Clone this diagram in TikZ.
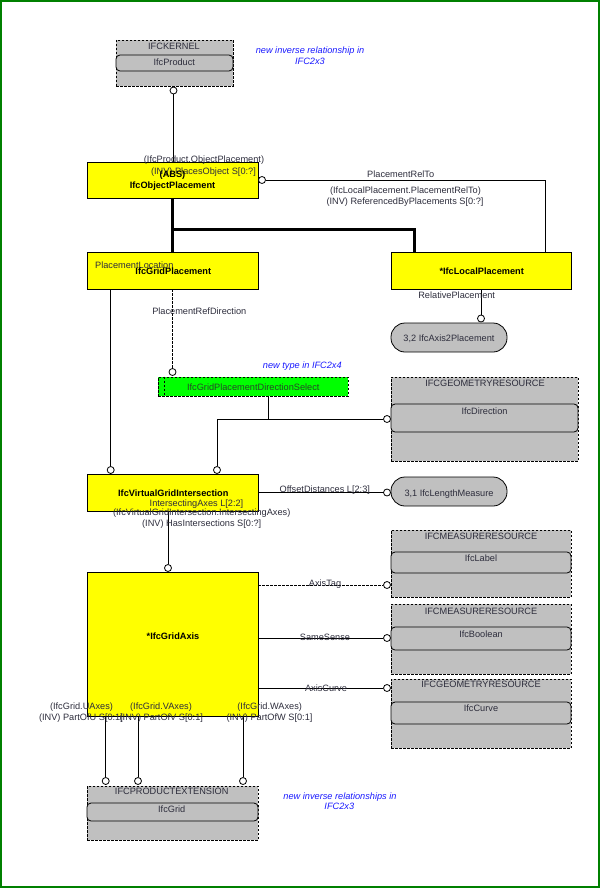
\documentclass[tikz,border=0pt]{standalone}
\usepackage{fontspec}
\setmainfont{Liberation Sans}
\usetikzlibrary{calc}
\definecolor{ifcyellow}{RGB}{255,255,0}
\definecolor{ifcgray}{RGB}{192,192,192}
\definecolor{ifcgreen}{RGB}{0,255,0}
\definecolor{framec}{RGB}{0,128,0}
\definecolor{labc}{RGB}{45,45,60}
\definecolor{notec}{RGB}{25,25,255}
\definecolor{selc}{RGB}{40,70,40}
\begin{document}
\begin{tikzpicture}[x=1pt,y=-1pt,
  txt/.style={inner sep=0pt, text height=6.6pt, text depth=0pt, font=\fontsize{9.2}{10}\selectfont, text=labc},
  bold/.style={txt, font=\fontsize{9.2}{10}\selectfont\bfseries, text=black},
  note/.style={txt, font=\fontsize{9.2}{10}\selectfont\itshape, text=notec},
  ybox/.style={draw, fill=ifcyellow, line width=0.8pt, inner sep=0pt},
  gbox/.style={draw, dashed, dash pattern=on 2.5pt off 1.5pt, fill=ifcgray, line width=0.8pt, inner sep=0pt},
  ibox/.style={draw, solid, rounded corners=4pt, fill=ifcgray, line width=0.8pt, inner sep=0pt},
  pill/.style={draw, fill=ifcgray, rounded corners=14pt, line width=0.8pt, inner sep=0pt, minimum width=116pt, minimum height=29pt},
  selbox/.style={draw, dashed, dash pattern=on 2.5pt off 1.5pt, fill=ifcgreen, line width=0.8pt, inner sep=0pt},
  oc/.style={circle, draw, fill=white, minimum size=7pt, inner sep=0pt, line width=0.8pt},
  conn/.style={line width=0.8pt},
  dconn/.style={line width=0.8pt, dash pattern=on 2.5pt off 1.5pt},
  thickconn/.style={line width=3pt}
]
\useasboundingbox (0,0) rectangle (600,888);
\draw[framec, line width=1.6pt] (0.8,0.8) rectangle (599.2,887.2);

% ---------- boxes ----------
\node[gbox, minimum width=117pt, minimum height=46pt] (kernel) at (174.5,63) {};
\node[ibox, minimum width=117pt, minimum height=16pt] (kernelin) at (174.5,63) {};
\node[txt] (kernelh) at (174,46) {IFCKERNEL};
\node[txt] (kernelt) at (174.3,62) {IfcProduct};

\node[ybox, minimum width=171pt, minimum height=36pt] (op) at (172.5,180) {};
\node[ybox, minimum width=171pt, minimum height=37pt] (gp) at (172.5,270.5) {};
\node[ybox, minimum width=180pt, minimum height=37pt] (lp) at (481,270.5) {};
\node[pill] (a2p) at (449,337.5) {};
\node[selbox, minimum width=190pt, minimum height=19pt] (gs) at (253,386.5) {};
\draw[dconn] (gs.north west -| 164,0) -- (gs.south west -| 164,0);

\node[gbox, minimum width=187pt, minimum height=84pt] (dirb) at (484.5,419) {};
\node[ibox, minimum width=187pt, minimum height=28pt] (dirin) at (484.5,418) {};

\node[ybox, minimum width=171pt, minimum height=37pt] (vgi) at (172.5,492.5) {};
\node[pill] (lm) at (449,491.5) {};

\node[ybox, minimum width=171pt, minimum height=144pt] (ga) at (172.5,644) {};

\node[gbox, minimum width=180pt, minimum height=67pt] (lblb) at (481,563.5) {};
\node[ibox, minimum width=180pt, minimum height=21pt] (lblin) at (481,562.5) {};
\node[gbox, minimum width=180pt, minimum height=70pt] (boolb) at (481,639) {};
\node[ibox, minimum width=180pt, minimum height=23pt] (boolin) at (481,638.5) {};
\node[gbox, minimum width=180pt, minimum height=69pt] (curvb) at (481,713.5) {};
\node[ibox, minimum width=180pt, minimum height=22pt] (curvin) at (481,713) {};

\node[gbox, minimum width=171pt, minimum height=54pt] (gridb) at (172.5,813) {};
\node[ibox, minimum width=171pt, minimum height=18pt] (gridin) at (172.5,812) {};

% ---------- circles ----------
\node[oc] (c1) at (173.5,90.5) {};
\node[oc] (c2) at (262,180) {};
\node[oc] (c3) at (481,318.5) {};
\node[oc] (c4) at (172.5,372) {};
\node[oc] (c5) at (387,419) {};
\node[oc] (c6) at (217,470) {};
\node[oc] (c7) at (110.7,470) {};
\node[oc] (c8) at (387,492.5) {};
\node[oc] (c9) at (168,568) {};
\node[oc] (c10) at (387,585) {};
\node[oc] (c11) at (387,638) {};
\node[oc] (c12) at (387,688) {};
\node[oc] (c13) at (105.7,781) {};
\node[oc] (c14) at (138,781) {};
\node[oc] (c15) at (243,781) {};

\coordinate (lpt) at (545,252);
\coordinate (tj) at (172.5,229);
\coordinate (lpj) at (414,252);
\coordinate (j1) at (268,419);

% ---------- connectors ----------
\draw[conn] (c1) -- (c1 |- op.north);
\draw[conn] (c2) -| (lpt);
\draw[thickconn] (op.south) -- (gp.north);
\draw[thickconn] (tj) -| (lpj);
\draw[conn] (lp.south) -- (c3);
\draw[dconn] (gp.south) -- (c4);
\draw[conn] (gs.south -| j1) -- (j1);
\draw[conn] (c6) |- (c5);
\draw[conn] (gp.south -| c7) -- (c7);
\draw[conn] (vgi.east |- c8) -- (c8);
\draw[conn] (vgi.south -| c9) -- (c9);
\draw[dconn] (ga.east |- c10) -- (c10);
\draw[conn] (ga.east |- c11) -- (c11);
\draw[conn] (ga.east |- c12) -- (c12);
\draw[conn] (ga.south -| c13) -- (c13);
\draw[conn] (ga.south -| c14) -- (c14);
\draw[conn] (ga.south -| c15) -- (c15);

% ---------- texts ----------
\node[note] (n1a) at (310,50) {new inverse relationship in};
\node[note] (n1b) at (310,61) {IFC2x3};

\node[txt] (l1) at (204,159) {(IfcProduct.ObjectPlacement)};
\node[txt] (l2) at (203.5,171) {(INV) PlacesObject S[0:?]};
\node[bold] (opa) at (172.5,174) {(ABS)};
\node[bold] (opt) at (172.5,185) {IfcObjectPlacement};

\node[txt] (l3) at (400.7,174) {PlacementRelTo};
\node[txt] (l4) at (405.5,190) {(IfcLocalPlacement.PlacementRelTo)};
\node[txt] (l5) at (405,201.5) {(INV) ReferencedByPlacements S[0:?]};

\node[txt, anchor=west] (l6) at (95,265) {PlacementLocation};
\node[bold] (gpt) at (173.3,271.5) {IfcGridPlacement};
\node[bold] (lpt2) at (481.7,271.5) {*IfcLocalPlacement};
\node[txt] (l7) at (456.7,295) {RelativePlacement};
\node[txt] (a2pt) at (449,338) {3,2 IfcAxis2Placement};

\node[txt] (l8) at (199.3,311) {PlacementRefDirection};
\node[note] (n2) at (302.3,365) {new type in IFC2x4};
\node[txt, text=selc] (gst) at (253.3,386.7) {IfcGridPlacementDirectionSelect};

\node[txt] (dirh) at (485,382.7) {IFCGEOMETRYRESOURCE};
\node[txt] (dirt) at (484.5,411) {IfcDirection};

\node[bold] (vgit) at (173.3,493.5) {IfcVirtualGridIntersection};
\node[txt] (l9) at (196.5,503) {IntersectingAxes L[2:2]};
\node[txt] (l10) at (201.7,512.3) {(IfcVirtualGridIntersection.IntersectingAxes)};
\node[txt] (l11) at (201.7,522.7) {(INV) HasIntersections S[0:?]};
\node[txt] (l12) at (324.8,489.5) {OffsetDistances L[2:3]};
\node[txt] (lmt) at (449,492.7) {3,1 IfcLengthMeasure};

\node[txt] (lblh) at (481,535.7) {IFCMEASURERESOURCE};
\node[txt] (lblt) at (481,557.7) {IfcLabel};
\node[txt] (l13) at (325,582.7) {AxisTag};
\node[txt] (boolh) at (481,610.7) {IFCMEASURERESOURCE};
\node[txt] (boolt) at (481,634) {IfcBoolean};
\node[txt] (l14) at (325,636.7) {SameSense};
\node[txt] (curvh) at (481,684.3) {IFCGEOMETRYRESOURCE};
\node[txt] (curvt) at (481,707.7) {IfcCurve};
\node[txt] (l15) at (326,687.7) {AxisCurve};

\node[bold] (gat) at (173,636) {*IfcGridAxis};

\node[txt] (l16) at (81.5,705.7) {(IfcGrid.UAxes)};
\node[txt] (l17) at (81,717.3) {(INV) PartOfU S[0:1]};
\node[txt] (l18) at (161,705.7) {(IfcGrid.VAxes)};
\node[txt] (l19) at (161.3,717.3) {(INV) PartOfV S[0:1]};
\node[txt] (l20) at (269.7,705.7) {(IfcGrid.WAxes)};
\node[txt] (l21) at (269.5,717.3) {(INV) PartOfW S[0:1]};

\node[txt] (gridh) at (171.7,791) {IFCPRODUCTEXTENSION};
\node[txt] (gridt) at (171.7,809) {IfcGrid};
\node[note] (n3a) at (340,795.7) {new inverse relationships in};
\node[note] (n3b) at (339.3,806) {IFC2x3};
\end{tikzpicture}
\end{document}
